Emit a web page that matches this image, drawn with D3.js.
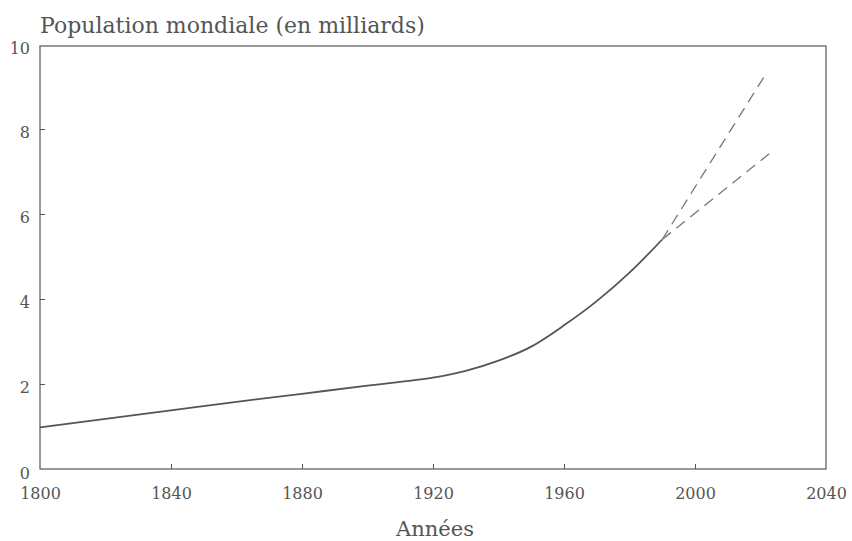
<!DOCTYPE html>
<html>
<head>
<meta charset="utf-8">
<script src="https://cdn.jsdelivr.net/npm/d3@7"></script>
<style>
  body { margin: 0; background: #fff; }
  svg text { font-family: "DejaVu Serif", "Liberation Serif", serif; fill: #555; }
</style>
</head>
<body>
<div id="chart"></div>
<script>
// dimensions
const width = 852;
const height = 541;
const margin = { top: 46, right: 26, bottom: 72, left: 40 };

// données
const years = [1800, 1820, 1840, 1860, 1880, 1900, 1910, 1920, 1930, 1940, 1950, 1960, 1970, 1980, 1990];
const population = [0.98, 1.18, 1.38, 1.58, 1.77, 1.96, 2.05, 2.15, 2.31, 2.55, 2.88, 3.38, 3.95, 4.62, 5.4];

// projections (tirets)
const projYears = [1990, 2022];
const projHigh = [5.4, 9.34];
const projLowYears = [1990, 2024];
const projLow = [5.4, 7.5];

const xTicks = [1800, 1840, 1880, 1920, 1960, 2000, 2040];
const yTicks = [0, 2, 4, 6, 8, 10];

const ink = "#555";

const svg = d3.select("#chart").append("svg")
    .attr("width", width)
    .attr("height", height);

const x = d3.scaleLinear().domain([1800, 2040]).range([margin.left, width - margin.right]);
const y = d3.scaleLinear().domain([0, 10]).range([469, 44]);

// cadre
svg.append("rect")
    .attr("x", x(1800))
    .attr("y", margin.top)
    .attr("width", x(2040) - x(1800))
    .attr("height", y(0) - margin.top)
    .attr("fill", "none")
    .attr("stroke", ink)
    .attr("stroke-width", 1.2);

// axe X (graduations vers l'intérieur)
const xAxis = svg.append("g")
    .attr("transform", `translate(0,${y(0)})`)
    .attr("font-family", null)
    .call(d3.axisBottom(x).tickValues(xTicks).tickSize(-5).tickSizeOuter(0).tickPadding(19).tickFormat(d3.format("d")));
xAxis.select(".domain").remove();
xAxis.selectAll(".tick line").attr("stroke", ink).filter(d => d === 1800 || d === 2040).remove();
xAxis.selectAll(".tick text")
    .style("font-size", "16px")
    .style("font-family", "'DejaVu Serif', serif")
    .attr("fill", ink);

// axe Y
const yAxis = svg.append("g")
    .attr("transform", `translate(${x(1800)},0)`)
    .call(d3.axisLeft(y).tickValues(yTicks).tickSize(-5).tickSizeOuter(0).tickPadding(10));
yAxis.select(".domain").remove();
yAxis.selectAll(".tick line").attr("stroke", ink).filter(d => d === 0 || d === 10).remove();
yAxis.selectAll(".tick text")
    .style("font-size", "16px")
    .style("font-family", "'DejaVu Serif', serif")
    .attr("fill", ink)
    .attr("dy", "0.5em");
yAxis.selectAll(".tick text").filter(d => d === 0 || d === 10).attr("dy", "0.6em");

// courbe principale
const line = d3.line()
    .x((d, i) => x(years[i]))
    .y(d => y(d))
    .curve(d3.curveMonotoneX);

svg.append("path")
    .datum(population)
    .attr("d", line)
    .attr("fill", "none")
    .attr("stroke", ink)
    .attr("stroke-width", 1.8);

// projections
const proj = d3.line().x(d => x(d[0])).y(d => y(d[1]));

svg.append("path")
    .datum(projYears.map((yr, i) => [yr, projHigh[i]]))
    .attr("d", proj)
    .attr("fill", "none")
    .attr("stroke", "#777")
    .attr("stroke-width", 1.3)
    .attr("stroke-dasharray", "11,7");

svg.append("path")
    .datum(projLowYears.map((yr, i) => [yr, projLow[i]]))
    .attr("d", proj)
    .attr("fill", "none")
    .attr("stroke", "#777")
    .attr("stroke-width", 1.3)
    .attr("stroke-dasharray", "11,7");

// titres
svg.append("text")
    .attr("x", 40)
    .attr("y", 33)
    .style("font-size", "22px")
    .text("Population mondiale (en milliards)");

svg.append("text")
    .attr("x", 435)
    .attr("y", 536)
    .attr("text-anchor", "middle")
    .style("font-size", "21px")
    .text("Années");
</script>
</body>
</html>
